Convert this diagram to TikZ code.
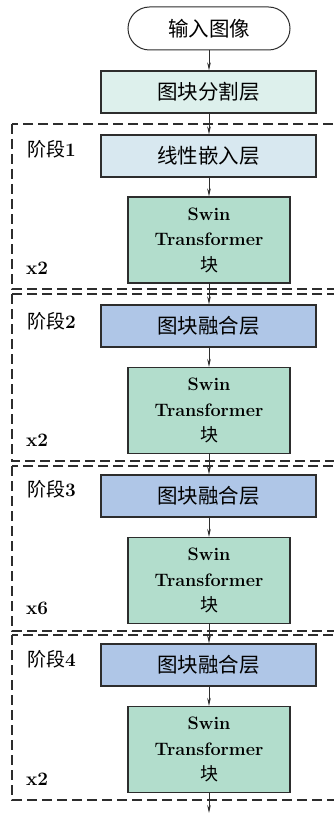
\documentclass[tikz,border=0pt]{standalone}
\usepackage{fontspec}
\newfontfamily\cjk{Noto Sans CJK SC}
\usetikzlibrary{shapes.misc,arrows.meta}
\definecolor{cyanbox}{RGB}{221,240,236}
\definecolor{linbox}{RGB}{216,232,240}
\definecolor{mergebox}{RGB}{175,198,231}
\definecolor{swinbox}{RGB}{178,221,204}
\definecolor{edge}{RGB}{45,45,45}
\begin{document}
\begin{tikzpicture}[x=1pt,y=-1pt,
 box/.style={draw=edge, line width=1.2pt, minimum width=215pt, minimum height=42pt, inner sep=0pt, font=\fontsize{20.5}{22}\cjk},
 swin/.style={draw=edge, fill=swinbox, line width=1.2pt, minimum width=162pt, minimum height=86pt, inner sep=0pt, align=center, font=\fontsize{18}{25.5}\selectfont\bfseries},
 stagebox/.style={dash pattern=on 10pt off 5pt, line width=1.1pt, draw=edge},
 arr/.style={-{Stealth[length=8pt,width=3.6pt]}, line width=0.8pt, draw=edge},
 lab/.style={font=\fontsize{19}{22}\selectfont\bfseries, anchor=west, inner sep=0pt}]
\useasboundingbox (0,0) rectangle (333,813);
\fill[white] (0,0) rectangle (333,813);
% stage frames
\draw[stagebox] (12,124) rectangle (345,289);
\draw[stagebox] (12,294) rectangle (345,461);
\draw[stagebox] (12,466) rectangle (345,631);
\draw[stagebox] (12,635) rectangle (345,800);
% nodes
\node[rounded rectangle, draw=edge, line width=1pt, fill=white, minimum width=162pt, minimum height=43pt, inner sep=0pt, font=\fontsize{20.5}{22}\cjk] (in) at (209,28.5) {输入图像};
\node[box, fill=cyanbox] (p) at (208.5,92) {图块分割层};
\node[box, fill=linbox] (e) at (208.5,156) {线性嵌入层};
\node[swin] (s1) at (209,240) {Swin\\Transformer\\{\mdseries\cjk 块}};
\node[box, fill=mergebox] (m2) at (208.5,326) {图块融合层};
\node[swin] (s2) at (209,410.5) {Swin\\Transformer\\{\mdseries\cjk 块}};
\node[box, fill=mergebox] (m3) at (208.5,496) {图块融合层};
\node[swin] (s3) at (209,580.5) {Swin\\Transformer\\{\mdseries\cjk 块}};
\node[box, fill=mergebox] (m4) at (208.5,665) {图块融合层};
\node[swin] (s4) at (209,749.5) {Swin\\Transformer\\{\mdseries\cjk 块}};
\coordinate (end) at (209,813);
% labels
\node[lab] (l1) at (27,149) {{\mdseries\cjk 阶段}1};
\node[lab] (l2) at (27,321) {{\mdseries\cjk 阶段}2};
\node[lab] (l3) at (27,489) {{\mdseries\cjk 阶段}3};
\node[lab] (l4) at (27,659) {{\mdseries\cjk 阶段}4};
\node[lab] (r1) at (26,268) {x2};
\node[lab] (r2) at (26,440) {x2};
\node[lab] (r3) at (26,608) {x6};
\node[lab] (r4) at (26,779) {x2};
% arrows
\draw[arr] (in.south) -- (in.south |- p.north);
\draw[arr] (p.south -| in.south) -- (in.south |- e.north);
\draw[arr] (e.south -| in.south) -- (s1.north);
\draw[arr] (s1.south) -- (s1.south |- m2.north);
\draw[arr] (m2.south -| s1.south) -- (s2.north);
\draw[arr] (s2.south) -- (s2.south |- m3.north);
\draw[arr] (m3.south -| s2.south) -- (s3.north);
\draw[arr] (s3.south) -- (s3.south |- m4.north);
\draw[arr] (m4.south -| s3.south) -- (s4.north);
\draw[arr] (s4.south) -- (end);
\end{tikzpicture}
\end{document}
